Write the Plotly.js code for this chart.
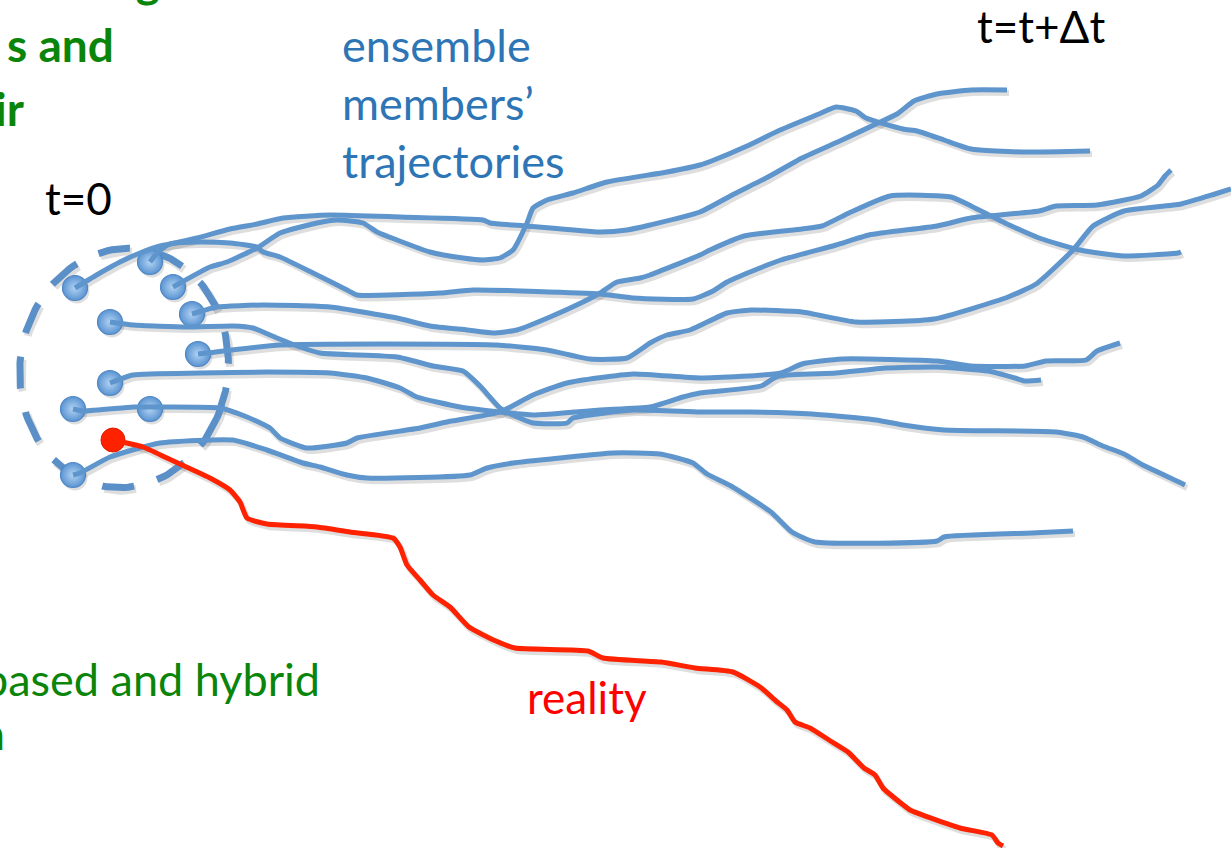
<!DOCTYPE html>
<html><head><meta charset="utf-8">
<script src="https://cdn.plot.ly/plotly-3.0.1.min.js"></script>
<style>html,body{margin:0;padding:0;background:#fff;overflow:hidden}#chart{width:1231px;height:848px}</style>
</head><body><div id="chart"></div>
<script>
// ---- data (pixel-space coordinates) ----
const startX = [75,150,173,110,192,198,110,73,150,73];
const startY = [288,262,287,322,314,354,383,409,409,475];
const realityStartX = [113];
const realityStartY = [440];

const m1x = [75,100,120,140,160,175,197,230,257,283,330,400,483,490,527,600,627,650,700,734,768,802,842,876,897,914,937,971,1007];
const m1y = [288,273,262,253,246,243,238,229,224,218,215,217,220,223,226,232,230,225,212,194,177,158,140,124,114,101,94,90,90];

const m2x = [150,158,170,197,230,257,263,280,313,347,357,440,473,600,633,693,713,727,750,781,836,869,937,971,1039,1056,1097,1141,1158,1165,1171];
const m2y = [262,252,244,242,243,247,252,257,273,290,295,293,290,294,298,299,291,282,272,260,245,235,226,218,211,206,205,196,185,176,170];

const m3x = [173,210,227,257,280,317,337,363,377,397,430,463,483,500,513,527,533,547,573,607,667,700,714,747,778,819,836,856,866,903,917,944,971,1022,1090];
const m3y = [287,267,262,248,233,223,220,223,232,240,252,258,260,258,250,223,208,200,193,182,172,165,160,146,131,114,107,111,118,129,131,140,149,152,151];

const m4x = [110,133,187,233,253,277,300,320,397,433,463,480,500,513,533,567,573,633,700,750,812,876,903,944,1056,1083,1103,1124,1141,1181,1185];
const m4y = [322,325,327,326,328,338,347,353,357,366,371,386,408,415,423,423,418,410,412,412,414,420,425,430,432,437,446,454,464,483,485];

const m5x = [192,217,263,330,397,430,467,493,517,550,583,600,617,640,650,700,710,744,802,822,849,890,951,971,1005,1039,1080,1124,1178,1181];
const m5y = [314,307,305,307,318,326,330,333,330,317,302,293,282,278,275,255,250,236,229,226,213,196,197,206,223,238,250,256,253,252];

const m6x = [198,207,280,380,497,547,590,627,650,667,690,727,751,802,856,934,1008,1036,1073,1093,1124,1181,1215,1231];
const m6y = [354,353,345,344,345,350,359,358,343,335,330,313,310,312,322,319,297,284,250,226,211,204,194,189];

const m7x = [110,133,200,267,330,367,400,417,460,500,533,600,650,683,700,761,778,836,886,937,988,1015,1025,1041];
const m7y = [383,375,373,372,373,378,388,397,407,412,415,410,407,397,393,386,376,373,368,367,371,378,381,380];

const m8x = [73,83,133,150,220,247,270,280,307,347,357,420,447,500,533,567,633,700,781,802,842,937,971,1025,1046,1086,1097,1120];
const m8y = [409,411,407,407,408,417,428,438,448,443,438,428,422,412,395,383,374,378,373,364,359,361,366,366,361,360,351,343];

const m9x = [73,80,110,160,233,267,303,320,347,367,470,487,513,560,613,660,693,707,731,771,792,815,937,944,1032,1073];
const m9y = [475,473,457,443,440,450,463,467,475,478,475,468,463,458,453,454,463,474,486,512,532,542,541,537,533,531];

const realX = [113,143,167,193,210,230,240,247,267,317,350,393,400,407,420,433,450,469,496,515,588,603,661,695,733,760,776,787,795,810,829,848,864,875,883,902,910,960,992,998,1003];
const realY = [440,447,458,470,478,490,502,518,524,527,532,538,547,565,580,595,607,627,641,648,651,658,662,668,672,687,701,710,722,728,740,752,768,775,788,804,810,828,835,843,846];

// ---- styling ----
const W = 1231, H = 848;
const BLUE = '#5e95cc';
const RED = '#ff2200';
const SHADOW = 'rgba(0,0,0,0.13)';
const ELL = {cx:124, cy:368, rx:104, ry:120, rot:0.15, t0:0.3, n:160};

const members = [[m1x,m1y],[m2x,m2y],[m3x,m3y],[m4x,m4y],[m5x,m5y],[m6x,m6y],[m7x,m7y],[m8x,m8y],[m9x,m9y]];

// dashed ellipse outline (decoration)
const ex = [], ey = [];
for (let i = 0; i <= ELL.n; i++) {
  const t = ELL.t0 + 2*Math.PI*i/ELL.n;
  const a = ELL.rx*Math.cos(t), b = ELL.ry*Math.sin(t);
  ex.push(ELL.cx + a*Math.cos(ELL.rot) - b*Math.sin(ELL.rot));
  ey.push(ELL.cy + a*Math.sin(ELL.rot) + b*Math.cos(ELL.rot));
}

const traces = [];
// shadow layer (base axes are shifted a few pixels)
traces.push({x:ex, y:ey, mode:'lines', line:{color:SHADOW, width:8, dash:'32px,24px'}, xaxis:'x', yaxis:'y', hoverinfo:'skip'});
traces.push({x:startX, y:startY, mode:'markers', marker:{size:25, color:SHADOW, line:{width:0}}, xaxis:'x', yaxis:'y', hoverinfo:'skip'});
members.forEach(m => traces.push({x:m[0], y:m[1], mode:'lines', line:{color:SHADOW, width:6, shape:'spline', smoothing:0.5}, xaxis:'x', yaxis:'y', hoverinfo:'skip'}));
traces.push({x:realX, y:realY, mode:'lines', line:{color:SHADOW, width:6, shape:'spline', smoothing:0.5}, xaxis:'x', yaxis:'y', hoverinfo:'skip'});

// main layer
traces.push({x:ex, y:ey, mode:'lines', line:{color:'#5b8fc7', width:7, dash:'32px,24px'}, xaxis:'x2', yaxis:'y2', hoverinfo:'skip'});
traces.push({x:startX, y:startY, mode:'markers', marker:{size:25, color:'#5a94d2', gradient:{type:'radial', color:'#b3d3f3'}, line:{color:'#4f86c4', width:1.2}}, xaxis:'x2', yaxis:'y2', hoverinfo:'skip'});
members.forEach(m => traces.push({x:m[0], y:m[1], mode:'lines', line:{color:BLUE, width:5, shape:'spline', smoothing:0.5}, xaxis:'x2', yaxis:'y2', hoverinfo:'skip'}));
traces.push({x:realityStartX, y:realityStartY, mode:'markers', marker:{size:24, color:'#ff2200', line:{color:'#e01a00', width:1}}, xaxis:'x2', yaxis:'y2', hoverinfo:'skip'});
traces.push({x:realX, y:realY, mode:'lines', line:{color:RED, width:5, shape:'spline', smoothing:0.5}, xaxis:'x2', yaxis:'y2', hoverinfo:'skip'});

const px = v => v / W;
const py = v => 1 - v / H;
const FONT = 'Lato, "Open Sans", sans-serif';
function label(text, x, y, xanchor, size, color, bold) {
  return {text: bold ? '<b>'+text+'</b>' : text, xref:'paper', yref:'paper', x:px(x), y:py(y),
    xanchor:xanchor, yanchor:'middle', showarrow:false, font:{family:FONT, size:size, color:color}};
}
const GREEN = '#0a850a';
const TBLUE = '#2e75b6';
const annotations = [
  label('ing', 162, -20, 'right', 46, GREEN, true),
  label('s and', 116, 44, 'right', 46, GREEN, true),
  label('ir', 26, 108, 'right', 46, GREEN, true),
  label('ensemble', 340, 45, 'left', 45, TBLUE, false),
  label('members’', 340, 103, 'left', 45, TBLUE, false),
  label('trajectories', 340, 161, 'left', 45, TBLUE, false),
  label('t=0', 43, 198, 'left', 44, '#000000', false),
  label('t=t+Δt', 975, 26, 'left', 44, '#000000', false),
  label('based and hybrid', 322, 679, 'right', 45, GREEN, false),
  label('n', 7, 733, 'right', 45, GREEN, false),
  label('reality', 525, 697, 'left', 44, '#ff0000', false)
];

const axBase = {visible:false, showgrid:false, zeroline:false, fixedrange:true};
const layout = {
  width: W, height: H,
  margin: {l:0, r:0, t:0, b:0, pad:0},
  paper_bgcolor: '#ffffff', plot_bgcolor: '#ffffff',
  showlegend: false,
  xaxis: Object.assign({}, axBase, {range:[-2, W-2]}),
  yaxis: Object.assign({}, axBase, {range:[H-3, -3]}),
  xaxis2: Object.assign({}, axBase, {range:[0, W], overlaying:'x'}),
  yaxis2: Object.assign({}, axBase, {range:[H, 0], overlaying:'y'}),
  annotations: annotations
};

Plotly.newPlot('chart', traces, layout, {staticPlot:true, displayModeBar:false});
</script>
</body></html>
